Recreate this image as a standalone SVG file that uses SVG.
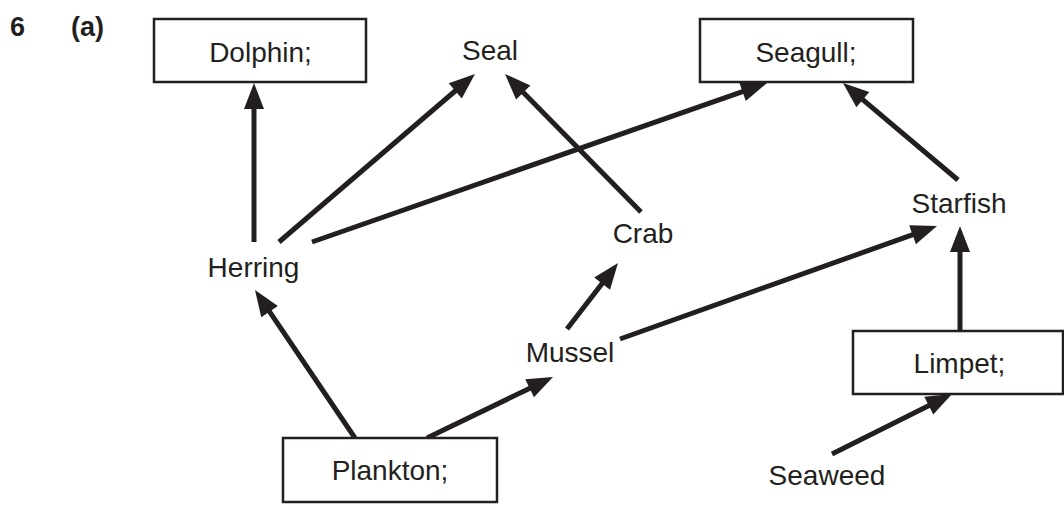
<svg xmlns="http://www.w3.org/2000/svg" width="1064" height="510" viewBox="0 0 1064 510">
<style>
.t{font-family:"Liberation Sans",Arial,sans-serif;font-size:28px;fill:#231f20;text-anchor:middle}
.h{font-family:"Liberation Sans",Arial,sans-serif;font-size:27px;font-weight:bold;fill:#231f20}
.box{fill:#fff;stroke:#231f20;stroke-width:2.5}
.c{stroke:#231f20;stroke-width:5;fill:none;marker-end:url(#ah)}
</style>
<defs>
<marker id="ah" markerUnits="userSpaceOnUse" markerWidth="26" markerHeight="20" refX="16" refY="10" orient="auto" overflow="visible">
<path d="M0,0 L26,10 L0,20 z" fill="#231f20"/>
</marker>
</defs>
<rect width="1064" height="510" fill="#fff"/>
<text class="h" x="10" y="36">6</text>
<text class="h" x="71" y="36">(a)</text>
<g id="connectors">
<line class="c" x1="254" y1="242" x2="254" y2="93"/>
<line class="c" x1="279" y1="242" x2="467.4" y2="80.5"/>
<line class="c" x1="312" y1="242" x2="757.6" y2="86.3"/>
<line class="c" x1="641" y1="212" x2="512" y2="81.1"/>
<line class="c" x1="958" y1="180" x2="850.6" y2="89.4"/>
<line class="c" x1="355" y1="438" x2="260.6" y2="298.3"/>
<line class="c" x1="427" y1="438" x2="544" y2="381.4"/>
<line class="c" x1="567" y1="329" x2="611.9" y2="270.9"/>
<line class="c" x1="620" y1="339" x2="927.6" y2="229.4"/>
<line class="c" x1="960" y1="330" x2="960" y2="236"/>
<line class="c" x1="832" y1="454" x2="943.1" y2="398.5"/>
</g>
<g id="dolphin"><rect class="box" x="154" y="19" width="212" height="63"/><text class="t" x="260.5" y="62">Dolphin;</text></g>
<g id="seal"><text class="t" x="490" y="60">Seal</text></g>
<g id="seagull"><rect class="box" x="700" y="19" width="213" height="63"/><text class="t" x="806" y="62">Seagull;</text></g>
<g id="herring"><text class="t" x="253.5" y="277">Herring</text></g>
<g id="crab"><text class="t" x="643" y="243">Crab</text></g>
<g id="starfish"><text class="t" x="959" y="213">Starfish</text></g>
<g id="mussel"><text class="t" x="570" y="362">Mussel</text></g>
<g id="limpet"><rect class="box" x="853" y="331" width="210" height="63"/><text class="t" x="959.5" y="373">Limpet;</text></g>
<g id="plankton"><rect class="box" x="283" y="438" width="214" height="64"/><text class="t" x="390" y="480">Plankton;</text></g>
<g id="seaweed"><text class="t" x="827" y="485">Seaweed</text></g>
</svg>
